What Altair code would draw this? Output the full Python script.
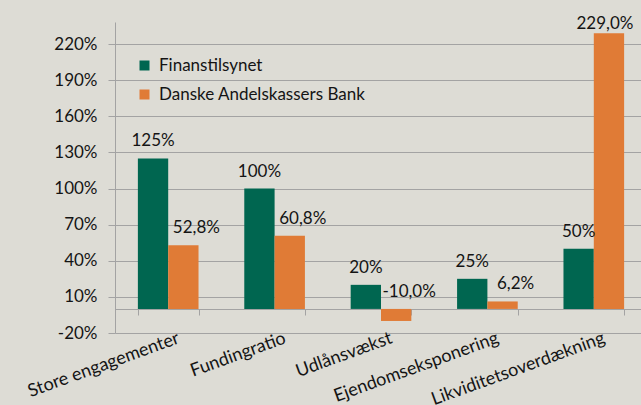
import altair as alt
import pandas as pd

categories = ["Store engagementer", "Fundingratio", "Udlånsvækst",
              "Ejendomseksponering", "Likviditetsoverdækning"]
finanstilsynet = [125, 100, 20, 25, 50]
dab = [52.8, 60.8, -10.0, 6.2, 229.0]
series_names = ["Finanstilsynet", "Danske Andelskassers Bank"]
y_ticks = [-20, 10, 40, 70, 100, 130, 160, 190, 220]

rows = []
for c, a, b in zip(categories, finanstilsynet, dab):
    rows.append({"cat": c, "series": series_names[0], "value": a,
                 "label": f"{a:.0f}%"})
    rows.append({"cat": c, "series": series_names[1], "value": b,
                 "label": f"{b:.1f}%".replace(".", ",")})
df = pd.DataFrame(rows)
df["ypos"] = df["value"].clip(lower=0)

GREEN = "#006650"
ORANGE = "#e07b36"
GREY = "#a3a3a3"
TXT = "#141414"
FONT = "Lato"

x_axis = alt.Axis(title=None, labelAngle=-20, labelAlign="right", labelBaseline="top",
                  labelPadding=14, labelOffset=7, tickBand="extent", tickSize=6,
                  offset=-24, domainColor=GREY, tickColor=GREY, labelFont=FONT,
                  labelFontSize=18, labelColor=TXT, labelOverlap=False, labelLimit=0,
                  grid=False)
x_scale = alt.Scale(range=[0, 532], paddingInner=0.43, paddingOuter=0.215)
y_axis = alt.Axis(values=y_ticks, labelExpr="datum.value + '%'", title=None,
                  grid=True, gridColor=GREY, tickSize=7, tickColor=GREY,
                  labelPadding=11, domainColor=GREY, labelFont=FONT,
                  labelFontSize=17, labelColor=TXT, labelOverlap=False,
                  labelFlush=False)
y_scale = alt.Scale(domain=[-20, 238.3], nice=False, zero=False)
xoff = alt.XOffset("series:N", sort=series_names,
                   scale=alt.Scale(domain=series_names, paddingInner=0, paddingOuter=0))

bars = alt.Chart(df).mark_bar().encode(
    x=alt.X("cat:N", sort=categories, scale=x_scale, axis=x_axis),
    xOffset=xoff,
    y=alt.Y("value:Q", scale=y_scale, axis=y_axis),
    y2=alt.datum(0),
    color=alt.Color("series:N", sort=series_names,
                    scale=alt.Scale(domain=series_names, range=[GREEN, ORANGE]),
                    legend=alt.Legend(title=None, orient="none", legendX=21, legendY=35,
                                      symbolType="square", symbolSize=100,
                                      labelFontSize=17, labelFont=FONT, labelColor=TXT,
                                      labelLimit=0, rowPadding=11, labelOffset=6,
                                      symbolStrokeWidth=0, padding=0)),
)

def text_layer(filt, dx, dy):
    return alt.Chart(df).transform_filter(filt).mark_text(
        font=FONT, fontSize=17, color=TXT, baseline="alphabetic", dx=dx, dy=dy
    ).encode(
        x=alt.X("cat:N", sort=categories, scale=x_scale, axis=x_axis),
        xOffset=xoff,
        y=alt.Y("ypos:Q", scale=y_scale, axis=y_axis),
        text="label:N",
    )

t_green = text_layer(alt.datum.series == series_names[0], 0, -12)
t_orange = text_layer((alt.datum.series == series_names[1]) & (alt.datum.cat != categories[-1]), 13, -12)
t_orange_last = text_layer((alt.datum.series == series_names[1]) & (alt.datum.cat == categories[-1]), -4, -4)

chart = alt.layer(bars, t_green, t_orange, t_orange_last).properties(
    width=526, height=311,
    padding={"left": 115, "top": 22, "right": 0, "bottom": 72},
    autosize=alt.AutoSizeParams(type="none"),
    background="#dddcd5",
).configure_view(stroke=None)

chart.save("out.html", embed_options={"renderer": "svg", "actions": False})
